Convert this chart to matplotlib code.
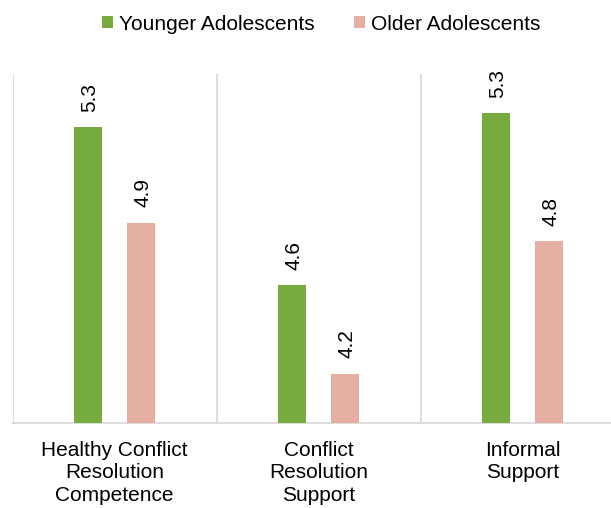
import matplotlib
matplotlib.use("Agg")
import matplotlib.pyplot as plt
import numpy as np

plt.rcParams['font.family'] = ['Liberation Sans', 'DejaVu Sans']

# data
categories = ['Healthy Conflict\nResolution\nCompetence',
              'Conflict\nResolution\nSupport',
              'Informal\nSupport']
younger = [5.27, 4.59, 5.33]
older = [4.86, 4.21, 4.78]
series_names = ['Younger Adolescents', 'Older Adolescents']
colors = ['#77AB3F', '#E6AFA4']

fig = plt.figure(figsize=(6.11, 5.08), dpi=100)
W, H = 611, 508
# axes runs a bit past the right edge, as in the reference
ax = fig.add_axes([12.7 / W, (H - 422.5) / H, 612 / W, (422.5 - 74) / H])

x = np.arange(len(categories))
off = 0.13
bw = 0.137
b1 = ax.bar(x - off, younger, bw, color=colors[0], label=series_names[0], zorder=3)
b2 = ax.bar(x + off, older, bw, color=colors[1], label=series_names[1], zorder=3)

for bars, vals in [(b1, younger), (b2, older)]:
    for rect, v in zip(bars, vals):
        ax.annotate(f'{v:.1f}', (rect.get_x() + rect.get_width() / 2, v),
                    xytext=(1, 11), textcoords='offset points',
                    rotation=90, ha='center', va='bottom', fontsize=15)

ax.set_ylim(4.0, 5.5)
ax.set_xlim(-0.5, 2.5)
ax.set_yticks([])

# category separators
for b in [-0.5, 0.5, 1.5, 2.5]:
    ax.axvline(b, color='#D9D9D9', lw=1.3, zorder=1)

for s in ['top', 'right', 'left']:
    ax.spines[s].set_visible(False)
ax.spines['bottom'].set_color('#D9D9D9')
ax.spines['bottom'].set_linewidth(1.3)

ax.set_xticks(x, categories, fontsize=15, linespacing=1.25)
ax.tick_params(axis='x', length=0, pad=13)

fig.legend(loc='center', bbox_to_anchor=(321 / W, 1 - 24 / H), ncol=2,
           frameon=False, fontsize=15, borderpad=0, handlelength=0.55,
           handleheight=0.55, handletextpad=0.25, columnspacing=1.9)

fig.savefig('out.png', dpi=100)
